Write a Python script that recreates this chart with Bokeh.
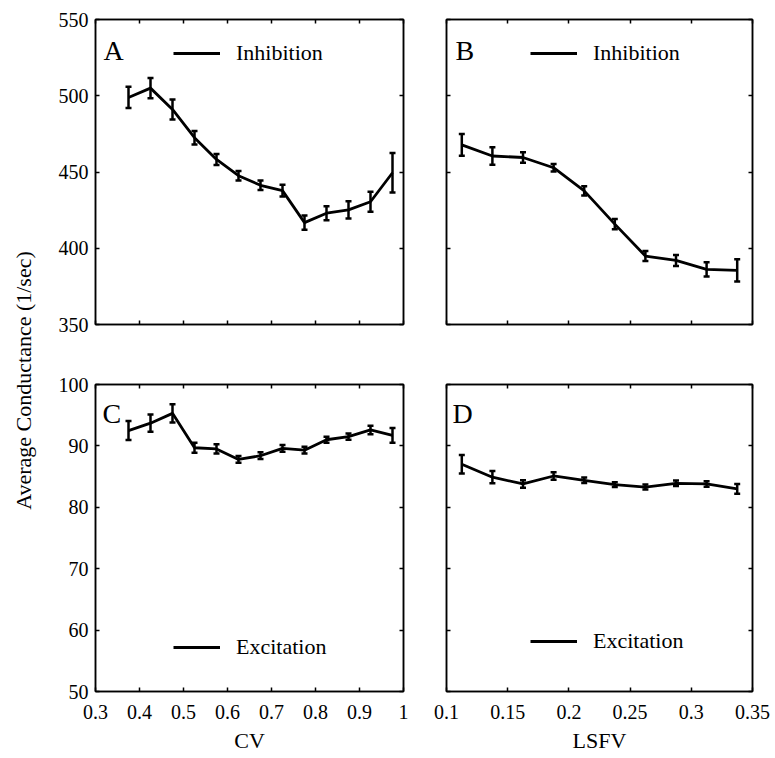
import math
from bokeh.plotting import figure
from bokeh.models import (ColumnDataSource, Whisker, TeeHead, LinearAxis, FixedTicker,
                          CustomJSTickFormatter, Legend, LegendItem, Label, Range1d)
from bokeh.layouts import row, column
from bokeh.embed import file_html
from bokeh.resources import INLINE

FONT = "Liberation Serif"

# ---------------- data ----------------
cv_x = [0.375, 0.425, 0.475, 0.525, 0.575, 0.625, 0.675, 0.725, 0.775, 0.825, 0.875, 0.925, 0.975]
inh_cv = [498.9, 505.0, 491.0, 472.5, 458.2, 447.6, 441.3, 437.8, 416.8, 423.0, 425.2, 430.5, 449.5]
inh_cv_err = [7.0, 6.7, 6.6, 4.4, 3.6, 3.1, 3.1, 3.9, 4.6, 4.6, 5.7, 6.6, 13.0]
exc_cv = [92.5, 93.7, 95.3, 89.7, 89.5, 87.8, 88.4, 89.6, 89.3, 91.0, 91.5, 92.6, 91.7]
exc_cv_err = [1.55, 1.4, 1.5, 0.8, 0.75, 0.55, 0.55, 0.55, 0.55, 0.5, 0.5, 0.7, 1.2]

lsfv_x = [0.1125, 0.1375, 0.1625, 0.1875, 0.2125, 0.2375, 0.2625, 0.2875, 0.3125, 0.3375]
inh_lsfv = [467.8, 460.5, 459.5, 452.8, 437.6, 415.8, 394.9, 392.0, 386.2, 385.5]
inh_lsfv_err = [7.2, 5.8, 3.5, 2.4, 3.0, 3.3, 3.3, 3.6, 4.7, 7.3]
exc_lsfv = [87.0, 84.9, 83.8, 85.1, 84.4, 83.7, 83.3, 83.9, 83.8, 83.0]
exc_lsfv_err = [1.5, 1.0, 0.6, 0.6, 0.45, 0.4, 0.4, 0.45, 0.45, 0.8]

cv_ticks = [0.3, 0.4, 0.5, 0.6, 0.7, 0.8, 0.9, 1.0]
lsfv_ticks = [0.1, 0.15, 0.2, 0.25, 0.3, 0.35]
inh_ticks = [350, 400, 450, 500, 550]
exc_ticks = [50, 60, 70, 80, 90, 100]

x_label_cv = "CV"
x_label_lsfv = "LSFV"
y_label = "Average Conductance (1/sec)"


def style_axis(ax, ticks, show_labels, side):
    ax.ticker = FixedTicker(ticks=ticks)
    ax.axis_line_color = "black"
    ax.axis_line_width = 1.5
    ax.major_tick_line_color = "black"
    ax.major_tick_line_width = 1.5
    ax.major_tick_in = 4
    ax.major_tick_out = 0
    ax.minor_tick_line_color = None
    if show_labels:
        ax.formatter = CustomJSTickFormatter(code="return String(parseFloat(tick.toFixed(2)));")
        ax.major_label_text_font = FONT
        ax.major_label_text_font_size = "20px"
        ax.major_label_text_color = "black"
        ax.major_label_standoff = 7 if side in ("left", "right") else 13
    else:
        ax.formatter = CustomJSTickFormatter(code="return '';")
        ax.major_label_text_font_size = "1px"
        ax.major_label_standoff = 0


def make_panel(xs, ys, errs, xr, yr, xticks, yticks, show_x, show_y, width, height,
               borders, letter, letter_xy, legend_label, legend_loc, xlabel=None):
    p = figure(width=width, height=height, x_range=Range1d(*xr), y_range=Range1d(*yr),
               output_backend="svg", toolbar_location=None,
               min_border_left=borders[0], min_border_right=borders[1],
               min_border_top=borders[2], min_border_bottom=borders[3])
    p.xgrid.grid_line_color = None
    p.ygrid.grid_line_color = None
    p.outline_line_color = "black"
    p.outline_line_width = 1.5
    p.background_fill_color = "white"
    p.border_fill_color = "white"

    bottom_ax = p.xaxis[0]
    left_ax = p.yaxis[0]
    style_axis(bottom_ax, xticks, show_x, "below")
    style_axis(left_ax, yticks, show_y, "left")
    top_ax = LinearAxis()
    right_ax = LinearAxis()
    style_axis(top_ax, xticks, False, "above")
    style_axis(right_ax, yticks, False, "right")
    p.add_layout(top_ax, "above")
    p.add_layout(right_ax, "right")

    if xlabel:
        bottom_ax.axis_label = xlabel
        bottom_ax.axis_label_text_font = FONT
        bottom_ax.axis_label_text_font_size = "22px"
        bottom_ax.axis_label_text_font_style = "normal"
        bottom_ax.axis_label_text_color = "black"
        bottom_ax.axis_label_standoff = 6

    src = ColumnDataSource(dict(
        x=xs, y=ys,
        upper=[v + e for v, e in zip(ys, errs)],
        lower=[v - e for v, e in zip(ys, errs)],
    ))
    line_r = p.line("x", "y", source=src, line_color="black", line_width=2.8)
    wh = Whisker(source=src, base="x", upper="upper", lower="lower",
                 line_color="black", line_width=2.5,
                 upper_head=TeeHead(size=6, line_color="black", line_width=2.5),
                 lower_head=TeeHead(size=6, line_color="black", line_width=2.5))
    p.add_layout(wh)

    p.add_layout(Label(x=letter_xy[0], y=letter_xy[1], text=letter, text_font=FONT,
                       text_font_size="28px", text_color="black",
                       text_baseline="alphabetic", text_align="left"))

    legend = Legend(items=[LegendItem(label=legend_label, renderers=[line_r])],
                    location=legend_loc, border_line_color=None, background_fill_alpha=0,
                    padding=0, margin=0, glyph_width=47, glyph_height=26, label_height=26,
                    label_standoff=16, label_text_font=FONT, label_text_font_size="22px",
                    label_text_color="black")
    p.add_layout(legend)
    return p


pA = make_panel(cv_x, inh_cv, inh_cv_err, (0.3, 1.0), (350, 550), cv_ticks, inh_ticks,
                False, True, 385, 354, (55, 22, 19, 30), "A", (0.318, 530),
                "Inhibition", (78, 258))
pB = make_panel(lsfv_x, inh_lsfv, inh_lsfv_err, (0.1, 0.35), (350, 550), lsfv_ticks, inh_ticks,
                False, False, 350, 354, (21, 23, 19, 30), "B", (0.1074, 530),
                "Inhibition", (84, 258))
pC = make_panel(cv_x, exc_cv, exc_cv_err, (0.3, 1.0), (50, 100), cv_ticks, exc_ticks,
                True, True, 385, 404, (55, 22, 30, 67), "C", (0.316, 95.3),
                "Excitation", (78, 31), xlabel=x_label_cv)
pD = make_panel(lsfv_x, exc_lsfv, exc_lsfv_err, (0.1, 0.35), (50, 100), lsfv_ticks, exc_ticks,
                True, False, 350, 404, (21, 23, 30, 67), "D", (0.105, 95.3),
                "Excitation", (84, 37), xlabel=x_label_lsfv)

# left strip holding the shared y-axis label
pL = figure(width=40, height=758, x_range=Range1d(0, 40), y_range=Range1d(0, 758),
            output_backend="svg", toolbar_location=None, x_axis_type=None, y_axis_type=None,
            min_border=0, min_border_left=0, min_border_right=0, min_border_top=0,
            min_border_bottom=0)
pL.outline_line_color = None
pL.xgrid.grid_line_color = None
pL.ygrid.grid_line_color = None
pL.add_layout(Label(x=23, y=378, text=y_label, angle=math.pi / 2, text_font=FONT,
                    text_font_size="22px", text_color="black",
                    text_align="center", text_baseline="middle"))

layout = row(pL, column(row(pA, pB), row(pC, pD)))

with open("out.html", "w") as f:
    f.write(file_html(layout, INLINE))
